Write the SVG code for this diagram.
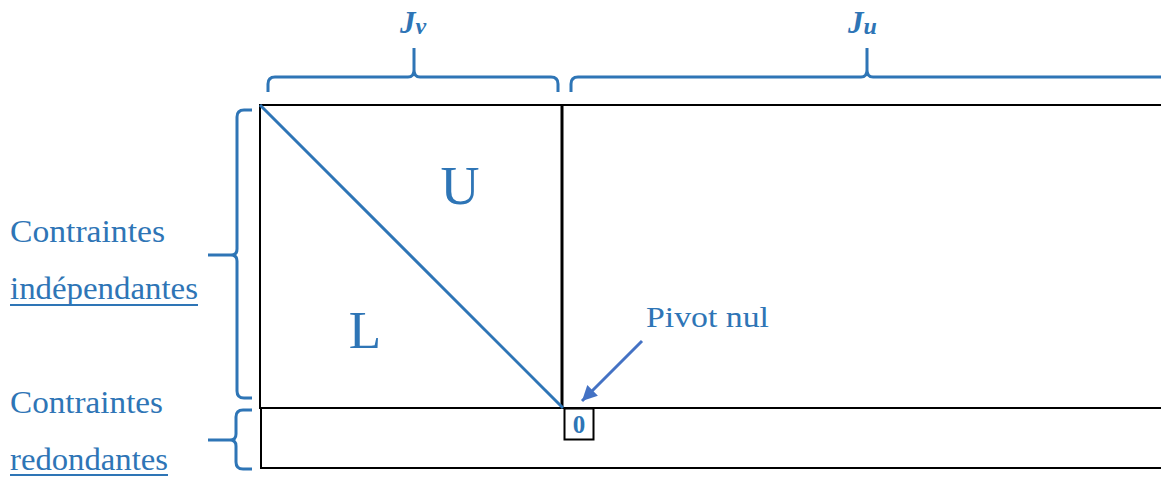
<svg xmlns="http://www.w3.org/2000/svg" width="1161" height="477" viewBox="0 0 1161 477">
<style>
.t{font-family:"Liberation Serif","DejaVu Serif",serif;fill:#2e75b6}
.br{fill:none;stroke:#2e75b6;stroke-width:3;stroke-linecap:butt}
.blk{fill:none;stroke:#000;stroke-width:2}
</style>
<defs>
<marker id="ah" viewBox="0 0 10 10" refX="10" refY="5" markerWidth="6" markerHeight="5" orient="auto" markerUnits="strokeWidth">
<path d="M0,0 L10,5 L0,10 z" fill="#4472c4"/>
</marker>
</defs>
<rect width="1161" height="477" fill="#fff"/>
<g id="matrix">
<rect class="blk" x="260" y="105" width="920" height="303"/>
<rect class="blk" x="261" y="408" width="920" height="60"/>
<line x1="562" y1="105" x2="562" y2="408" stroke="#000" stroke-width="3"/>
<line x1="260" y1="105" x2="563" y2="408" stroke="#2e75b6" stroke-width="3"/>
<text class="t" x="460" y="204" font-size="54" text-anchor="middle">U</text>
<text class="t" x="365" y="348" font-size="53" text-anchor="middle">L</text>
</g>
<g id="zero">
<rect x="564.5" y="408.5" width="29" height="31" fill="#fff" stroke="#000" stroke-width="2"/>
<text class="t" x="579" y="433" font-size="25" font-weight="bold" text-anchor="middle">0</text>
</g>
<g id="braces">
<path class="br" d="M268,92 L268,84 Q268,77 275,77 L408,77 Q414,77 414,70 L414,48 M414,70 Q414,77 420,77 L551,77 Q558,77 558,84 L558,92"/>
<path class="br" d="M571,92 L571,84 Q571,77 578,77 L861,77 Q867,77 867,70 L867,48 M867,70 Q867,77 873,77 L1161,77"/>
<path class="br" d="M252,110 L244,110 Q237,110 237,117 L237,249 Q237,255 231,255 L208,255 M231,255 Q237,255 237,261 L237,391 Q237,398 244,398 L252,398"/>
<path class="br" d="M252,410 L243,410 Q236,410 236,417 L236,434 Q236,440 230,440 L208,440 M230,440 Q236,440 236,446 L236,462 Q236,469 243,469 L252,469"/>
</g>
<g id="labels">
<text class="t" x="400" y="33" font-size="31" font-weight="bold" font-style="italic">J<tspan font-size="24" dy="1">v</tspan></text>
<text class="t" x="848" y="33" font-size="31" font-weight="bold" font-style="italic">J<tspan font-size="24" dy="1">u</tspan></text>
<text class="t" x="10" y="242" font-size="31" textLength="155" lengthAdjust="spacingAndGlyphs">Contraintes</text>
<text class="t" x="10" y="299" font-size="31" textLength="188" lengthAdjust="spacingAndGlyphs">indépendantes</text>
<line x1="10" y1="305" x2="198" y2="305" stroke="#2e75b6" stroke-width="2"/>
<text class="t" x="10" y="413" font-size="31" textLength="153" lengthAdjust="spacingAndGlyphs">Contraintes</text>
<text class="t" x="10" y="470" font-size="31" textLength="158" lengthAdjust="spacingAndGlyphs">redondantes</text>
<line x1="10" y1="475" x2="168" y2="475" stroke="#2e75b6" stroke-width="2"/>
<text class="t" x="646" y="327" font-size="30" textLength="123" lengthAdjust="spacingAndGlyphs">Pivot nul</text>
</g>
<g id="connectors">
<line x1="642" y1="341" x2="582" y2="401" stroke="#4472c4" stroke-width="3" marker-end="url(#ah)"/>
</g>
</svg>
